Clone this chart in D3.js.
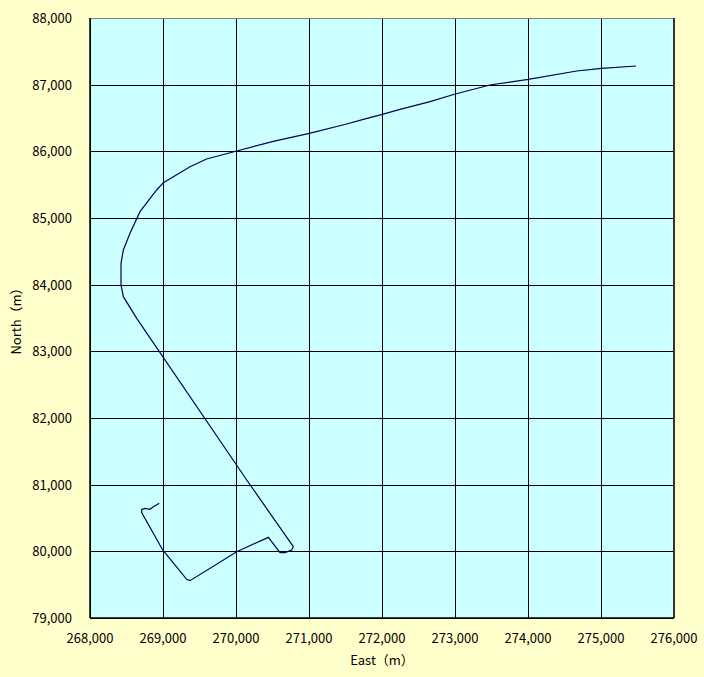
<!DOCTYPE html>
<html>
<head>
<meta charset="utf-8">
<script src="https://cdn.jsdelivr.net/npm/d3@7"></script>
<style>
  body { margin: 0; background: #ffffcc; }
  svg { display: block; }
</style>
</head>
<body>
<div id="chart-area"></div>
<script>
// track coordinates (m)
var east = [275480, 275009, 274667, 274004, 273479, 273004, 272658, 272247, 272004, 271744,
  271516, 271004, 270511, 270010, 269598, 269370, 269005, 268913, 268685, 268548,
  268457, 268425, 268425, 268457, 268640, 270147, 270785, 270763, 270671, 270603,
  270443, 270010, 269370, 269324, 268996, 268708, 268708, 268753, 268822, 268868, 268949];
var north = [87280, 87245, 87205, 87080, 86995, 86860, 86745, 86630, 86555, 86480,
  86410, 86270, 86150, 86005, 85885, 85770, 85530, 85420, 85095, 84770,
  84520, 84320, 83995, 83820, 83495, 81070, 80070, 80020, 79980, 79980,
  80210, 79995, 79560, 79580, 80020, 80580, 80630, 80645, 80630, 80670, 80720];

var xTicks = [268000, 269000, 270000, 271000, 272000, 273000, 274000, 275000, 276000];
var yTicks = [79000, 80000, 81000, 82000, 83000, 84000, 85000, 86000, 87000, 88000];

var margin = { top: 18, right: 30, bottom: 59, left: 90 },
    width = 704 - margin.left - margin.right,
    height = 677 - margin.top - margin.bottom;

var svg = d3.select('#chart-area').append('svg')
    .attr('width', 704)
    .attr('height', 677);

svg.append('rect')
  .attr('width', 704).attr('height', 677)
  .attr('fill', '#ffffcc');

var g = svg.append('g')
  .attr('transform', 'translate(' + margin.left + ',' + margin.top + ')');

var x = d3.scaleLinear().domain([268000, 276000]).range([0, width]);
var y = d3.scaleLinear().domain([79000, 88000]).range([height, 0]);

// plot area
g.append('rect')
  .attr('width', width).attr('height', height)
  .attr('fill', '#ccffff');

// grid
g.append('g')
  .attr('transform', 'translate(0,' + height + ')')
  .call(d3.axisBottom(x).tickValues(xTicks).tickSize(-height).tickFormat(''))
  .call(function(s){ s.select('.domain').remove(); })
  .selectAll('line').attr('stroke', '#000').attr('shape-rendering', 'crispEdges');

g.append('g')
  .call(d3.axisLeft(y).tickValues(yTicks).tickSize(-width).tickFormat(''))
  .call(function(s){ s.select('.domain').remove(); })
  .selectAll('line').attr('stroke', '#000').attr('shape-rendering', 'crispEdges');

// border
g.append('line').attr('x1', 0).attr('x2', width).attr('y1', 0.5).attr('y2', 0.5)
  .attr('stroke', '#808080');
g.append('line').attr('x1', width).attr('x2', width).attr('y1', 0).attr('y2', height)
  .attr('stroke', '#333').attr('stroke-width', 2);
g.append('line').attr('x1', 0).attr('x2', width).attr('y1', height).attr('y2', height)
  .attr('stroke', '#000').attr('stroke-width', 1.5);
g.append('line').attr('x1', 0).attr('x2', 0).attr('y1', 0).attr('y2', height)
  .attr('stroke', '#000').attr('stroke-width', 1.5);

var fmt = d3.format(',');
var font = '"Noto Sans CJK JP", "DejaVu Sans", sans-serif';

// tick labels
g.selectAll('.xl').data(xTicks).enter().append('text')
  .attr('x', function(d){ return x(d); })
  .attr('y', height + 25)
  .attr('text-anchor', 'middle')
  .attr('font-family', font).attr('font-size', '13px')
  .text(fmt);

g.selectAll('.yl').data(yTicks).enter().append('text')
  .attr('x', -18)
  .attr('y', function(d){ return y(d) + 5; })
  .attr('text-anchor', 'end')
  .attr('font-family', font).attr('font-size', '13px')
  .text(fmt);

// axis titles
g.append('text')
  .attr('x', width / 2)
  .attr('y', height + 47)
  .attr('text-anchor', 'middle')
  .attr('font-family', font).attr('font-size', '13px')
  .text('East（m）');

g.append('text')
  .attr('x', -(height / 2))
  .attr('y', -69)
  .attr('transform', 'rotate(-90)')
  .attr('text-anchor', 'middle')
  .attr('font-family', font).attr('font-size', '13px')
  .text('North（m）');

// track
var line = d3.line()
  .x(function(d){ return x(d[0]); })
  .y(function(d){ return y(d[1]); });

g.append('path')
  .datum(d3.zip(east, north))
  .attr('fill', 'none')
  .attr('stroke', '#000050')
  .attr('stroke-width', 1.2)
  .attr('d', line);
</script>
</body>
</html>
